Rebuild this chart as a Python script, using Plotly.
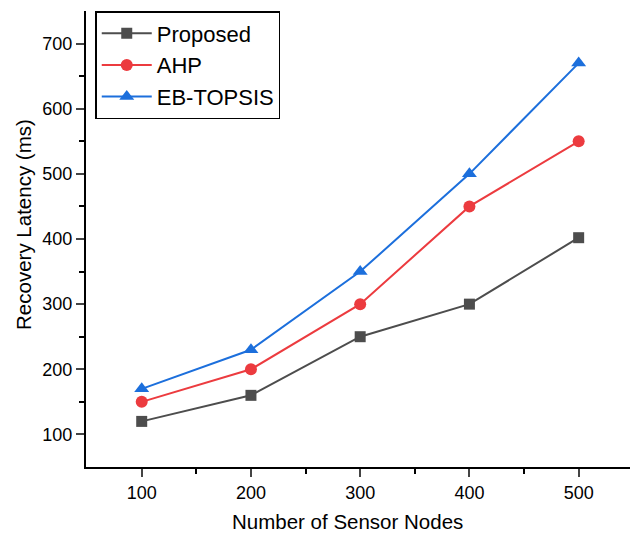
import plotly.graph_objects as go

nodes = [100, 200, 300, 400, 500]
proposed = [120, 160, 250, 300, 402]
ahp = [150, 200, 300, 450, 550]
eb_topsis = [170, 230, 350, 500, 670]

series = [
    ("Proposed", proposed, "#4d4d4d", "square", 11),
    ("AHP", ahp, "#ec3b3f", "circle", 12),
    ("EB-TOPSIS", eb_topsis, "#1c6fdc", "triangle-up", 13),
]

fig = go.Figure()
for name, vals, color, sym, sz in series:
    fig.add_trace(go.Scatter(
        x=nodes, y=vals, name=name, mode="lines+markers",
        line=dict(color=color, width=2),
        marker=dict(symbol=sym, size=sz, color=color),
    ))

font = "Arial, Liberation Sans, sans-serif"
fig.update_layout(
    width=630, height=536,
    margin=dict(l=86, r=0, t=11, b=69),
    paper_bgcolor="white", plot_bgcolor="white",
    font=dict(family=font, size=18, color="black"),
    showlegend=True,
    legend=dict(
        x=0.017, y=1.0, xanchor="left", yanchor="top",
        bordercolor="black", borderwidth=1.5,
        font=dict(size=22, family=font, color="black"),
        itemwidth=50, tracegroupgap=0,
        bgcolor="white",
    ),
    xaxis=dict(
        range=[49, 547], tickvals=nodes, ticks="outside", ticklen=8, tickwidth=2,
        showline=True, linecolor="black", linewidth=2, showgrid=False, zeroline=False,
        tickfont=dict(size=18),
        minor=dict(tickvals=[150, 250, 350, 450], ticks="outside", ticklen=5, tickwidth=2, tickcolor="black", showgrid=False),
    ),
    yaxis=dict(
        range=[50, 750], tickvals=[100, 200, 300, 400, 500, 600, 700], ticks="outside", ticklen=8, tickwidth=2,
        showline=True, linecolor="black", linewidth=2, showgrid=False, zeroline=False,
        tickfont=dict(size=18),
        minor=dict(tickvals=[150, 250, 350, 450, 550, 650], ticks="outside", ticklen=5, tickwidth=2, tickcolor="black", showgrid=False),
    ),
    annotations=[
        dict(text="Number of Sensor Nodes", xref="paper", yref="paper", x=0.4798, y=-0.1206,
             xanchor="center", yanchor="middle", showarrow=False, font=dict(size=20.5)),
        dict(text="Recovery Latency (ms)", xref="paper", yref="paper", x=-0.114, y=0.533,
             xanchor="center", yanchor="middle", textangle=-90, showarrow=False, font=dict(size=20.5)),
    ],
)

fig.write_html("out.html")
